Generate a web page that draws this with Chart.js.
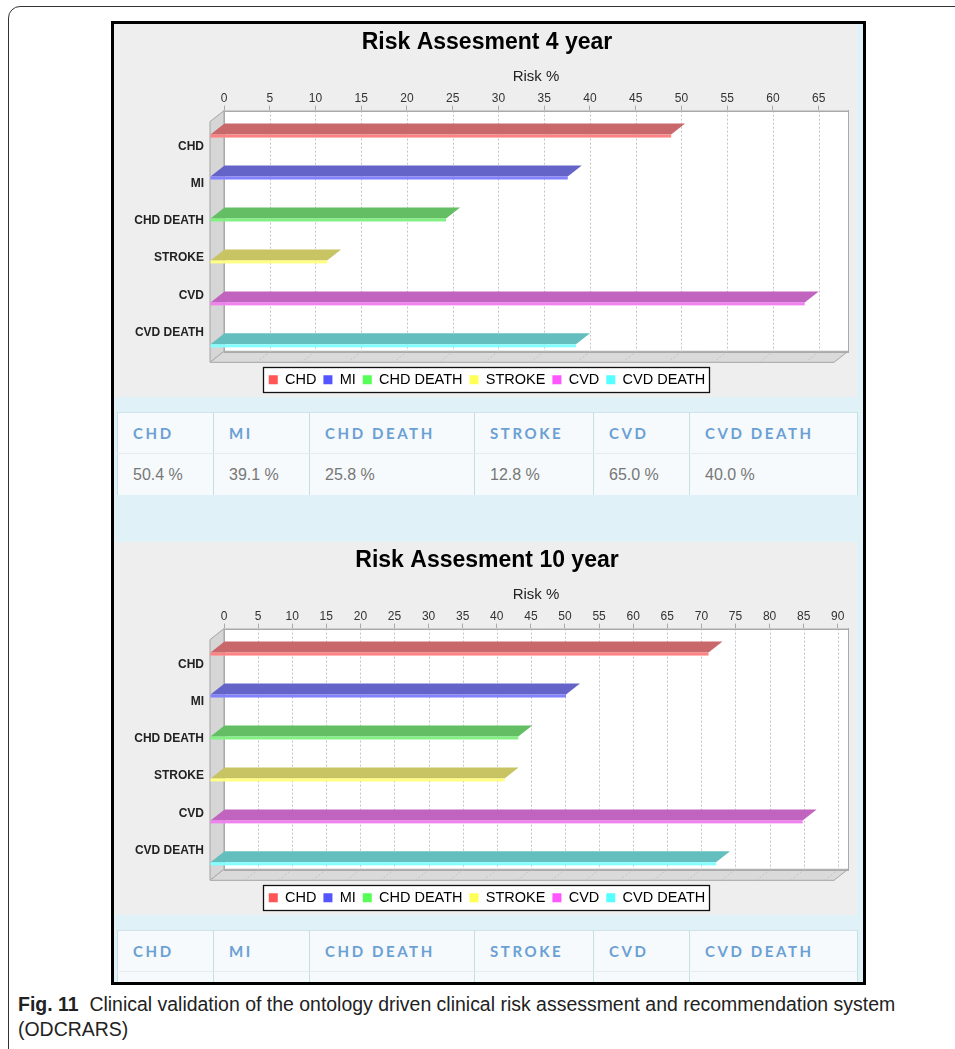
<!DOCTYPE html>
<html>
<head>
<meta charset="utf-8">
<script src="https://cdn.jsdelivr.net/npm/chart.js@4.4.1/dist/chart.umd.min.js"></script>
<style>
  body { margin: 0; width: 955px; height: 1049px; background: #fff; position: relative; overflow: hidden; font-family: 'Liberation Sans', Arial, sans-serif; }
  .frame { position: absolute; left: 8px; top: 6px; width: 1000px; height: 1100px; border: 1px solid #333; border-radius: 12px; }
  .fig { position: absolute; left: 111px; top: 21px; width: 755px; height: 964px; box-sizing: border-box; border: 3px solid #000; background: #e0f2f7; overflow: hidden; }
  .fig canvas { position: absolute; left: 0; background: #eeeeee; }
  #c4 { top: 0; }
  #c10 { top: 518px; }
  table.risk { position: absolute; left: 3px; width: 740px; border-collapse: collapse; table-layout: fixed; border-top: 1px solid #cfe3e8; }
  #t4 { top: 388px; }
  #t10 { top: 906px; }
  table.risk td { border-left: 1px solid #c6dfe4; border-right: 1px solid #c6dfe4; padding: 0 0 0 15px; background: #f6fafc; white-space: nowrap; }
  table.risk tr.h td { height: 40px; font-family: 'Lato', sans-serif; font-weight: 700; font-size: 15px; letter-spacing: 2.6px; color: #6aa0d4; border-bottom: 1px solid #e4eef2; }
  table.risk tr.v td { height: 41px; font-size: 16px; color: #777; }
  .cap { position: absolute; left: 18px; top: 992px; font-family: 'Liberation Sans', sans-serif; font-size: 20px; line-height: 25px; color: #222; white-space: nowrap; transform: scaleX(0.973); transform-origin: left top; }
</style>
</head>
<body>
<div class="frame"></div>
<div class="fig">
  <canvas id="c4" width="743" height="373"></canvas>
  <table class="risk" id="t4"></table>
  <canvas id="c10" width="743" height="373"></canvas>
  <table class="risk" id="t10"></table>
</div>
<div class="cap"><b>Fig. 11</b>&nbsp; Clinical validation of the ontology driven clinical risk assessment and recommendation system<br>(ODCRARS)</div>

<script>
// data
const categories = ['CHD', 'MI', 'CHD DEATH', 'STROKE', 'CVD', 'CVD DEATH'];
const risk4 = [50.4, 39.1, 25.8, 12.8, 65.0, 40.0];
const risk10 = [73.1, 52.2, 45.2, 43.2, 86.9, 74.2];
const axisMax4 = 68.2;
const axisMax10 = 91.5;
const tickStep = 5;

// styles
const palette = ['#ff5555', '#5555ff', '#55ff55', '#ffff55', '#ff55ff', '#55ffff'];
const topColors = ['#c8686a', '#6464c8', '#64be64', '#c8c464', '#c064c0', '#64bebe'];
const frontColors = ['#ff8282', '#8282ff', '#82f082', '#ffff82', '#f082f0', '#82ffff'];
const dx = -14, dy = 11;

Chart.defaults.font.family = "'Liberation Sans', Arial, sans-serif";

function poly(ctx, pts, fill, stroke) {
    ctx.beginPath();
    ctx.moveTo(pts[0][0], pts[0][1]);
    for (let i = 1; i < pts.length; i++) ctx.lineTo(pts[i][0], pts[i][1]);
    ctx.closePath();
    if (fill) { ctx.fillStyle = fill; ctx.fill(); }
    if (stroke) { ctx.strokeStyle = stroke; ctx.stroke(); }
}

// 3D box + slab bars, drawn from the bar elements
const threeD = {
    id: 'threeD',
    beforeDraw(chart) {
        const lg = chart.legend;
        if (!lg || !lg.legendHitBoxes.length) return;
        const hb = lg.legendHitBoxes;
        const l = Math.min(...hb.map(h => h.left)) - 6;
        const r = Math.max(...hb.map(h => h.left + h.width)) + 4;
        const t = hb[0].top + hb[0].height / 2 - 12.5;
        const ctx = chart.ctx;
        ctx.save();
        ctx.fillStyle = '#fff';
        ctx.fillRect(Math.round(l) + 0.5, Math.round(t) + 0.5, Math.round(r - l), 25);
        ctx.lineWidth = 1.3;
        ctx.strokeStyle = '#111';
        ctx.strokeRect(Math.round(l) + 0.5, Math.round(t) + 0.5, Math.round(r - l), 25);
        ctx.restore();
    },
    beforeDatasetsDraw(chart) {
        const {ctx, chartArea: ca, scales: {x}} = chart;
        const l = ca.left, r = ca.right, top = ca.top, bot = ca.bottom - dy;
        ctx.save();
        ctx.lineWidth = 1;
        ctx.fillStyle = '#fff';
        ctx.fillRect(l, top, r - l, bot - top);
        poly(ctx, [[l, top], [l + dx, top + dy], [l + dx, bot + dy], [l, bot]], '#d6d6d6', '#a4a4a4');
        poly(ctx, [[l, bot], [r, bot], [r + dx, bot + dy], [l + dx, bot + dy]], '#dadada', '#a4a4a4');

        ctx.setLineDash([2, 2]);
        ctx.strokeStyle = '#c4c4c4';
        x.ticks.forEach(t => {
            const px = Math.round(x.getPixelForValue(t.value)) + 0.5;
            if (t.value > 0) {
                ctx.beginPath(); ctx.moveTo(px, top); ctx.lineTo(px, bot); ctx.stroke();
            }
            ctx.beginPath(); ctx.moveTo(px, bot); ctx.lineTo(px + dx, bot + dy); ctx.stroke();
        });
        ctx.setLineDash([]);
        ctx.strokeStyle = '#aaa';
        ctx.strokeRect(Math.round(l) + 0.5, Math.round(top) + 0.5, Math.round(r - l), Math.round(bot - top));

        chart.data.datasets.forEach((ds, di) => {
            const meta = chart.getDatasetMeta(di);
            meta.data.forEach((el, i) => {
                if (ds.data[i] == null) return;
                const p = el.getProps(['x', 'y', 'base'], true);
                const yb = p.y - 8;
                poly(ctx, [[p.base, yb], [p.x, yb], [p.x + dx, yb + dy], [p.base + dx, yb + dy]], topColors[di]);
                ctx.fillStyle = frontColors[di];
                ctx.fillRect(p.base + dx, yb + dy, p.x - p.base, 3);
            });
        });
        ctx.restore();
        return false;
    }
};

function makeChart(id, title, values, axisMax) {
    const datasets = categories.map((c, i) => ({
        label: c,
        data: categories.map((_, j) => j === i ? values[i] : null),
        backgroundColor: palette[i],
        borderWidth: 0
    }));

    return new Chart(document.getElementById(id), {
        type: 'bar',
        data: { labels: categories, datasets: datasets },
        options: {
            responsive: false,
            animation: false,
            indexAxis: 'y',
            skipNull: true,
            layout: { padding: { left: 12, right: 9, top: 0, bottom: 0 } },
            scales: {
                x: {
                    position: 'top',
                    min: 0,
                    max: axisMax,
                    afterBuildTicks: s => {
                        const t = [];
                        for (let v = 0; v <= axisMax; v += tickStep) t.push({ value: v });
                        s.ticks = t;
                    },
                    afterFit: s => { s.height = 52; },
                    ticks: { autoSkip: false, maxRotation: 0, padding: 0, color: '#333', font: { size: 12 } },
                    grid: { drawOnChartArea: false, drawTicks: true, tickLength: 5, color: '#aaa' },
                    border: { color: '#aaa' },
                    title: { display: true, text: 'Risk %', color: '#222', font: { size: 15 }, padding: { top: 9, bottom: 0 } }
                },
                y: {
                    display: false
                },
                yl: {
                    type: 'linear',
                    position: 'left',
                    reverse: true,
                    offset: false,
                    bounds: 'data',
                    min: -0.96,
                    max: 5.8,
                    afterDataLimits: s => { s.min = -0.96; s.max = 5.8; },
                    afterBuildTicks: s => { s.ticks = categories.map((c, i) => ({ value: i })); },
                    afterFit: s => { s.width = 98; },
                    ticks: {
                        autoSkip: false,
                        padding: 20,
                        color: '#222',
                        font: { size: 12, weight: 'bold' },
                        callback: v => categories[v]
                    },
                    grid: { display: false, drawTicks: false, offset: false },
                    border: { display: false }
                }
            },
            plugins: {
                title: {
                    display: true,
                    text: title,
                    color: '#000',
                    font: { size: 23, weight: 'bold' },
                    padding: { top: 5, bottom: 2 }
                },
                legend: {
                    position: 'bottom',
                    title: { display: true, text: '', font: { size: 1 }, padding: { top: 0, bottom: 2 } },
                    labels: { boxWidth: 9, boxHeight: 9, padding: 7, color: '#000', font: { size: 14.5 } }
                },
                tooltip: { enabled: false }
            }
        },
        plugins: [threeD]
    });
}

function buildTable(id, values) {
    const head = '<tr class="h">' + categories.map(c => '<td>' + c + '</td>').join('') + '</tr>';
    const row = '<tr class="v">' + values.map(v => '<td>' + v.toFixed(1) + ' %</td>').join('') + '</tr>';
    const widths = [96, 96, 165, 119, 96, 168];
    const cols = '<colgroup>' + widths.map(w => '<col style="width:' + w + 'px">').join('') + '</colgroup>';
    document.getElementById(id).innerHTML = cols + head + row;
}

makeChart('c4', 'Risk Assesment 4 year', risk4, axisMax4);
makeChart('c10', 'Risk Assesment 10 year', risk10, axisMax10);
buildTable('t4', risk4);
buildTable('t10', risk10);
</script>
</body>
</html>
